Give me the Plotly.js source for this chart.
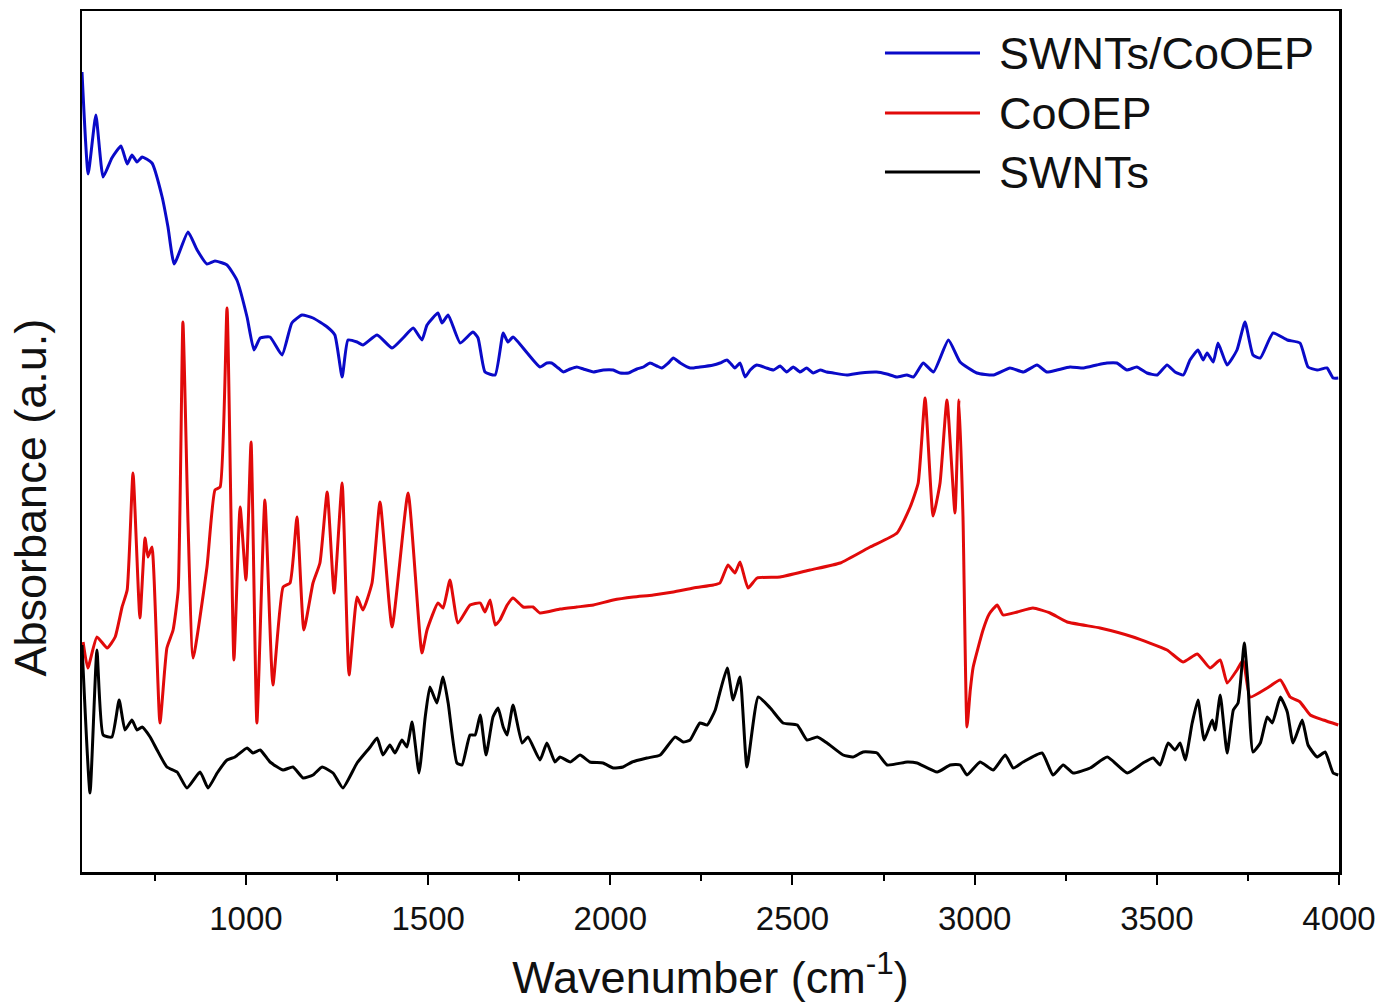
<!DOCTYPE html>
<html>
<head>
<meta charset="utf-8">
<script src="https://cdn.plot.ly/plotly-3.0.1.min.js"></script>
<style>html,body{margin:0;padding:0;background:#fff;}#chart{width:1396px;height:1007px;}</style>
</head>
<body>
<div id="chart"></div>
<script>
// Wavenumber (cm-1) and absorbance (a.u., offset-stacked)
const seriesNames = ["SWNTs/CoOEP", "CoOEP", "SWNTs"];
const seriesColors = ["#0a0ac8", "#e10a0a", "#000000"];

const blueX = [550,567,588,608,632,657,674,687,701,715,742,770,786,803,841,866,893,915,948,975,1003,1022,1039,1066,1099,1126,1154,1184,1223,1244,1264,1280,1305,1321,1360,1401,1431,1459,1483,1497,1527,1538,1555,1588,1623,1637,1656,1684,1706,1719,1733,1772,1807,1826,1839,1857,1871,1890,1908,1926,1954,1981,2008,2027,2050,2073,2091,2109,2128,2141,2159,2173,2192,2219,2246,2283,2301,2320,2329,2342,2356,2370,2384,2402,2429,2448,2466,2484,2502,2521,2539,2557,2576,2594,2612,2649,2686,2731,2759,2786,2814,2832,2859,2887,2928,2960,3006,3052,3097,3134,3171,3198,3226,3262,3299,3335,3363,3390,3418,3445,3473,3501,3528,3550,3573,3591,3613,3627,3638,3655,3668,3693,3720,3742,3764,3784,3819,3858,3893,3915,3940,3967,3984,3998];
const blueY = [800,698,757,695,714,726,708,717,710,715,709,675,645,608,640,622,608,611,607,592,555,522,534,535,517,549,557,554,545,537,495,532,530,527,537,524,534,544,532,547,559,549,557,529,540,534,500,497,539,530,535,519,505,509,509,504,500,503,505,503,500,502,502,499,499,503,505,509,506,504,509,514,509,504,505,507,509,512,509,504,509,495,502,507,504,502,506,500,505,500,504,499,502,500,499,497,499,500,498,495,497,495,509,500,532,510,499,497,504,500,507,500,502,505,504,507,509,509,502,505,499,497,507,500,497,512,522,512,519,510,529,507,522,550,517,514,539,532,529,505,502,504,494,494];

const redX = [553,566,591,619,641,660,674,690,709,723,731,742,764,783,800,814,827,841,855,893,915,929,948,967,984,1000,1014,1030,1052,1074,1102,1121,1140,1159,1184,1203,1223,1242,1264,1283,1305,1321,1346,1368,1401,1445,1483,1497,1527,1541,1560,1582,1615,1643,1656,1670,1684,1697,1717,1733,1761,1788,1807,1862,1908,1954,2008,2063,2118,2173,2228,2283,2301,2323,2342,2356,2378,2403,2466,2548,2631,2713,2787,2823,2845,2864,2886,2905,2924,2946,2957,2968,2979,2988,2996,3023,3040,3062,3078,3117,3160,3207,3254,3344,3435,3528,3572,3611,3646,3674,3693,3720,3737,3756,3803,3839,3866,3893,3921,3957,3998];
const redY = [230,204,235,224,235,265,282,399,254,334,315,325,149,224,242,282,550,349,214,305,382,385,564,212,365,292,430,149,372,187,285,289,355,242,289,309,380,279,389,197,275,262,289,370,245,379,219,242,269,264,292,249,267,269,260,272,247,252,267,274,265,265,259,263,265,267,272,275,277,280,284,287,289,307,299,310,284,294,295,302,309,325,339,365,389,474,356,389,472,359,472,355,145,182,205,242,258,267,257,260,264,259,250,244,235,222,210,218,204,212,189,202,212,175,184,192,175,170,157,152,147];

const blackX = [550,572,591,608,632,652,668,687,701,715,737,756,783,811,838,874,896,921,948,970,1003,1019,1039,1066,1102,1129,1157,1184,1209,1239,1266,1305,1341,1360,1376,1395,1409,1428,1442,1456,1475,1492,1505,1524,1541,1555,1579,1593,1615,1629,1643,1659,1678,1692,1706,1717,1733,1758,1774,1807,1826,1848,1862,1890,1917,1944,1980,2008,2035,2060,2101,2137,2178,2200,2219,2246,2266,2288,2301,2321,2337,2356,2375,2406,2439,2474,2513,2540,2568,2595,2639,2666,2694,2732,2760,2815,2842,2897,2933,2960,2979,3015,3051,3084,3106,3133,3185,3215,3243,3270,3317,3364,3419,3462,3490,3509,3531,3550,3564,3578,3597,3613,3630,3652,3660,3674,3693,3710,3723,3740,3750,3764,3784,3803,3817,3839,3858,3874,3899,3915,3940,3962,3984,3998];
const blackY = [227,79,222,137,135,172,142,152,142,145,135,122,105,100,84,100,84,99,112,115,124,119,122,110,102,105,94,97,105,99,84,109,125,134,117,127,119,132,125,150,99,155,185,169,195,169,109,107,137,137,157,117,155,164,145,137,167,129,135,112,129,110,115,110,117,110,109,104,105,110,114,117,135,130,132,149,147,162,180,204,172,195,105,175,164,149,147,132,135,129,117,115,120,119,107,110,109,100,107,107,97,110,102,117,104,110,119,97,107,99,104,115,99,109,114,107,129,122,129,112,149,172,132,152,142,177,119,162,169,229,189,120,129,155,149,175,160,129,152,127,115,120,99,97];

const xTickVals = [1000,1500,2000,2500,3000,3500,4000];
const xTickText = ["1000","1500","2000","2500","3000","3500","4000"];

const xs = [blueX, redX, blackX];
const ys = [blueY, redY, blackY];

const FONT = "Arial, 'Liberation Sans', Helvetica, sans-serif";

const traces = seriesNames.map((n, i) => ({
  type: "scatter", mode: "lines", name: n,
  x: xs[i], y: ys[i],
  line: {color: seriesColors[i], width: 3, shape: "spline", smoothing: 0.45},
  showlegend: false, hoverinfo: "skip"
}));

// legend drawn as line samples + labels in paper coordinates
const legY = [0.9512, 0.8815, 0.8130];
const shapes = seriesNames.map((n, i) => ({
  type: "line", xref: "paper", yref: "paper",
  x0: 0.6388, x1: 0.7144, y0: legY[i], y1: legY[i],
  line: {color: seriesColors[i], width: 3}
}));
const annotations = seriesNames.map((n, i) => ({
  xref: "paper", yref: "paper", x: 0.7279, y: legY[i],
  xanchor: "left", yanchor: "middle", showarrow: false,
  text: n, font: {family: FONT, size: 45, color: "#111"}
}));
annotations.push({
  xref: "paper", yref: "paper", x: -0.041, y: 0.4355,
  xanchor: "center", yanchor: "middle", showarrow: false, textangle: -90,
  text: "Absorbance (a.u.)", font: {family: FONT, size: 45, color: "#111"}
});

const layout = {
  width: 1396, height: 1007,
  margin: {l: 82, r: 57, t: 11, b: 135, pad: 0},
  paper_bgcolor: "#fff", plot_bgcolor: "#fff",
  font: {family: FONT, color: "#111"},
  showlegend: false,
  xaxis: {
    range: [550, 4000],
    tickmode: "array", tickvals: xTickVals, ticktext: xTickText,
    ticks: "outside", ticklen: 10, tickwidth: 2, tickcolor: "#000",
    ticklabelstandoff: 6,
    minor: {dtick: 250, tick0: 750, ticks: "outside", ticklen: 6, tickwidth: 2, tickcolor: "#000", showgrid: false},
    showline: true, linewidth: 2.5, linecolor: "#000", mirror: true,
    showgrid: false, zeroline: false,
    tickfont: {family: FONT, size: 33, color: "#111"},
    title: {text: "Wavenumber (cm<sup>-1</sup>)", font: {family: FONT, size: 45, color: "#111"}, standoff: 26}
  },
  yaxis: {
    range: [0, 861],
    showticklabels: false, ticks: "",
    showline: true, linewidth: 2.5, linecolor: "#000", mirror: true,
    showgrid: false, zeroline: false
  },
  shapes: shapes,
  annotations: annotations
};

Plotly.newPlot("chart", traces, layout, {displayModeBar: false, staticPlot: true});
</script>
</body>
</html>
